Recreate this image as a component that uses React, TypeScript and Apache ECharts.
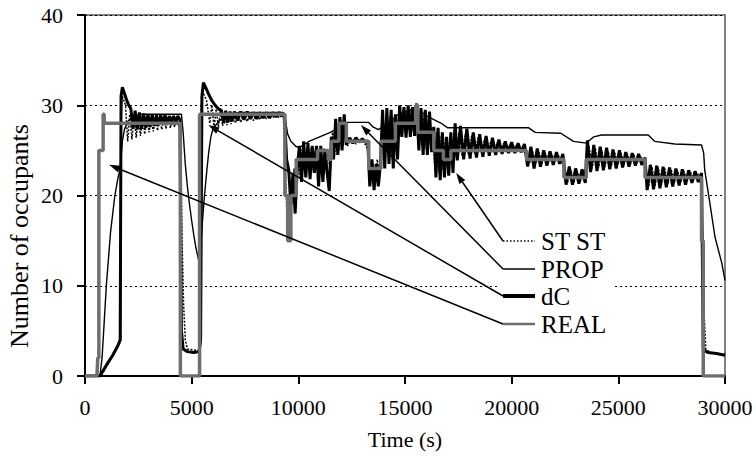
import React, { useEffect, useRef } from "react";
import * as echarts from "echarts";

const xTicks = [0, 5000, 10000, 15000, 20000, 25000, 30000];
const yTicks = [0, 10, 20, 30, 40];
const seriesNames = ["ST ST", "PROP", "dC", "REAL"];

const realData = [[0,0],[560,0],[600,2],[650,2],[650,25],[850,25],[850,29],[900,29],[900,28],[4470,28],[4470,0],[5370,0],[5370,29],[9370,29],[9370,20],[9500,20],[9500,15],[9650,15],[9650,20],[9900,20],[9900,24],[10900,24],[10900,25],[11400,25],[11400,24],[11550,24],[11550,26],[11900,26],[11900,28],[12250,28],[12250,26],[13300,26],[13300,23],[13870,23],[13870,26],[14550,26],[14550,28],[15500,28],[15500,30],[15600,30],[15600,27],[16350,27],[16350,25],[16800,25],[16800,24],[17150,24],[17150,25],[20700,25],[20700,24],[22450,24],[22450,22],[23500,22],[23500,24],[26250,24],[26250,22],[28900,22],[28900,15],[28980,15],[28980,0],[30000,0]];

const propData = [[0,0],[700,0],[800,2],[900,6],[1000,10],[1100,13],[1200,16],[1300,18],[1400,20],[1550,22],[1650,23],[1750,26],[1850,27.3],[2000,28.2],[2300,28.8],[2600,29],[4520,29],[4600,27],[4700,23.5],[4800,21],[4900,19],[5000,17.2],[5100,15.6],[5200,14.2],[5330,12.8],[5420,14],[5500,17],[5600,20],[5700,22.5],[5800,24.8],[5900,26.5],[6000,27.4],[6300,28.3],[6700,28.9],[7200,29.2],[9300,29.2],[9400,28.3],[9500,26.8],[9650,26],[9900,25.4],[10100,25.4],[10500,26],[11000,26.5],[11500,27],[12000,27.6],[12300,28.1],[13300,28.1],[13500,27.6],[13750,27.3],[14200,28],[14700,29],[15300,29.5],[15800,29.2],[16100,28.7],[16700,28],[17000,27.5],[20800,27.5],[21100,27],[22300,26.9],[22900,26],[23500,25.8],[23850,26.5],[24200,26.7],[26400,26.7],[26700,26],[27650,25.7],[28900,25.6],[29000,24.7],[29050,22.8],[29250,19.8],[29530,15.4],[29850,12.5],[30000,10.6]];

const dcMorning = [[0,0],[700,0],[1000,1.2],[1300,2.3],[1550,3.4],[1650,4],[1690,31],[1750,32],[1850,31.3],[1950,30.6],[2050,30],[2150,29.6],[2250,27.4],[2350,29.4],[2450,27.3],[2550,29.2],[2650,27.4],[2750,29.1],[2850,27.5],[2950,29],[3050,27.6],[3150,29],[3250,27.7],[3350,28.9],[3450,27.8],[3550,28.9],[3650,27.9],[3750,28.9],[3850,28],[3950,28.8],[4050,28.1],[4150,28.8],[4250,28.2],[4350,28.8],[4450,28.4],[4520,5],[4600,3],[4800,2.7],[5100,2.6],[5350,2.7],[5420,4]];
const dcMidday = [[5480,31],[5550,32.5],[5650,32],[5800,31.2],[5950,30.5],[6100,30],[6250,29.6],[6400,29.4],[6500,28],[6600,29.4],[6700,28.1],[6800,29.3],[6900,28.2],[7000,29.3],[7150,28.3],[7300,29.3],[7450,28.4],[7600,29.3],[7750,28.5],[7900,29.2],[8050,28.5],[8200,29.2],[8350,28.6],[8500,29.2],[8650,28.6],[8800,29.2],[8950,28.7],[9100,29.2],[9250,28.8],[9350,29],[9450,24],[9550,22.8],[9650,19],[9750,22.5],[9850,18],[9950,23],[10050,25.5]];
const dcAfternoon = [[10150,21.5],[10250,26],[10350,22],[10450,25.8],[10550,21.8],[10650,25.5],[10750,22.5],[10850,25.5],[10950,21],[11050,25.5],[11150,21.5],[11250,25],[11350,22.5],[11450,20.5],[11550,26.5],[11650,24],[11750,28.5],[11850,24.5],[11950,28.7],[12050,25],[12150,29],[12250,25.6],[12400,26.4],[12550,25.8],[12700,26.4],[12850,25.9],[13000,26.3],[13150,25.9],[13250,26.1],[13350,21],[13450,24],[13550,20.6],[13650,23.5],[13750,21],[13850,23.5],[13950,29.5],[14050,23],[14150,29.7],[14250,23.5],[14350,29.5],[14450,23],[14550,29],[14650,24],[14750,30],[14850,26.5],[14950,29.8],[15050,26.4],[15150,30],[15250,26.5],[15350,29.8],[15450,26.6],[15550,30.2],[15650,25],[15750,29.7],[15850,24.5],[15950,29.5],[16050,24.5],[16150,29.3],[16250,24.8],[16350,27.6],[16450,22],[16550,27.5],[16650,21.7],[16750,27],[16850,22],[16950,26.5],[17050,22.2],[17150,27],[17250,22.5]];
const dcEvening = [[17350,28],[17450,23.9],[17600,27.7],[17750,24],[17900,27.4],[18050,24.1],[18200,27],[18350,24.2],[18500,26.8],[18650,24.3],[18800,26.6],[18950,24.4],[19100,26.4],[19250,24.5],[19400,26.2],[19550,24.6],[19700,26],[19850,24.7],[20000,25.9],[20150,24.7],[20300,25.8],[20450,24.8],[20600,25.7],[20750,23.2],[20900,25.4],[21050,23],[21200,25.2],[21350,23.2],[21500,25],[21650,23.3],[21800,24.9],[21950,23.4],[22100,24.8],[22250,23.5],[22400,24.6],[22550,21.2],[22700,23.2],[22850,21.2],[23000,23],[23150,21.3],[23300,22.9],[23450,21.4],[23550,26.1],[23700,22.6],[23850,25.6],[24000,22.7],[24150,25.4],[24300,22.8],[24450,25.3],[24600,22.9],[24750,25.1],[24900,23],[25050,25],[25200,23.1],[25350,24.8],[25500,23.2],[25650,24.7],[25800,23.3],[25950,24.6],[26100,23.4],[26250,24.2],[26350,20.6],[26500,23.4],[26650,20.7],[26800,23.3],[26950,20.8],[27100,23.2],[27250,20.9],[27400,23.1],[27550,21],[27700,23],[27850,21.1],[28000,22.9],[28150,21.2],[28300,22.8],[28450,21.4],[28600,22.7],[28750,21.5],[28900,22.5],[28980,2.9],[29200,2.6],[29600,2.5],[30000,2.3]];

const ststMorning = [[0,0],[750,0],[1000,1],[1300,2.3],[1600,3.5],[1680,4],[1700,29],[1750,31],[1900,30],[2000,26],[2100,29],[2200,26.2],[2300,28.9],[2400,26.4],[2500,28.8],[2600,26.6],[2700,28.7],[2800,26.8],[2900,28.7],[3000,27],[3100,28.6],[3200,27.1],[3300,28.6],[3400,27.2],[3500,28.6],[3600,27.3],[3700,28.5],[3800,27.4],[3900,28.5],[4000,27.5],[4100,28.5],[4200,27.6],[4300,28.4],[4400,27.7],[4480,28],[4550,15],[4620,8],[4700,4],[4800,3],[5300,2.8],[5420,3.5]];
const ststMidday = [[5450,30],[5520,31.5],[5700,30.5],[5850,28],[5950,30],[6050,27.5],[6150,29.6],[6250,27.6],[6350,29.4],[6450,27.7],[6550,29.3],[6650,27.8],[6750,29.2],[6850,27.9],[6950,29.2],[7050,28],[7150,29.2],[7300,28.1],[7450,29.2],[7600,28.2],[7750,29.1],[7900,28.3],[8050,29.1],[8200,28.4],[8350,29.1],[8500,28.5],[8650,29.1],[8800,28.6],[8950,29],[9100,28.6],[9250,29],[9300,28.8]];
const ststAfternoon = [[9400,22],[9500,16],[9600,21],[9700,19],[9800,23],[9900,20],[10000,24],[10100,22],[10200,25.5],[10300,22.5],[10400,25],[10500,23],[10600,25.3],[10700,22.8],[10800,25],[10900,23.5],[11000,24.8],[11100,22.5],[11200,25.2],[11300,23],[11400,24.5],[11500,22.5],[11600,27],[11700,24.5],[11800,28],[11900,25],[12000,28.3],[12100,25.5],[12200,27.5],[12300,25.5],[12500,26.3],[12700,25.7],[12900,26.2],[13100,25.8],[13300,25],[13400,22],[13500,23.5],[13600,21.5],[13700,24],[13800,22.5],[13900,27],[14000,24],[14100,28.5],[14200,24.5],[14300,28.8],[14400,24],[14500,28.5],[14600,25],[14700,29],[14800,27],[14900,29.3],[15000,27],[15100,29.5],[15200,27.2],[15300,29.4],[15400,27],[15500,29.8],[15600,26],[15700,29],[15800,25.5],[15900,29],[16000,25.2],[16100,28.5],[16200,25.5],[16300,27.2],[16400,23],[16500,27],[16600,22.5],[16700,26.6],[16800,22.8],[16900,26.3],[17000,23],[17100,26.5],[17200,23.5],[17300,27.2]];
const ststEvening = [[17400,24.3],[17525,27],[17675,24.4],[17825,26.8],[17975,24.5],[18125,26.6],[18275,24.6],[18425,26.4],[18575,24.7],[18725,26.2],[18875,24.8],[19025,26],[19175,24.8],[19325,25.9],[19475,24.9],[19625,25.8],[19775,24.9],[19925,25.7],[20075,25],[20225,25.6],[20375,25],[20525,25.5],[20675,24.5],[20825,23.5],[20975,25],[21125,23.5],[21275,24.8],[21425,23.6],[21575,24.7],[21725,23.7],[21875,24.6],[22025,23.8],[22175,24.5],[22325,23.8],[22475,23],[22625,21.5],[22775,22.8],[22925,21.5],[23075,22.7],[23225,21.6],[23375,22.6],[23500,23],[23625,25.5],[23775,23],[23925,25.2],[24075,23.1],[24225,25],[24375,23.2],[24525,24.9],[24675,23.3],[24825,24.8],[24975,23.4],[25125,24.7],[25275,23.5],[25425,24.6],[25575,23.5],[25725,24.5],[25875,23.6],[26025,24.4],[26200,23.5],[26425,21],[26575,23.2],[26725,21.1],[26875,23.1],[27025,21.2],[27175,23],[27325,21.3],[27475,22.9],[27625,21.4],[27775,22.8],[27925,21.5],[28075,22.7],[28225,21.6],[28375,22.6],[28525,21.7],[28675,22.5],[28850,22],[28950,15],[29000,8],[29100,3],[29300,2.6],[30000,2.4]];

// arrow tips in data units, one per label
const arrowTips = [[17397, 22.5], [12931, 27.8], [5784, 27.8], [1128, 23.4]];

const FONT = "Liberation Serif";

export default function App() {
  const ref = useRef<HTMLDivElement>(null);
  useEffect(() => {
    document.body.style.margin = "0";
    const chart = echarts.init(ref.current as HTMLDivElement, null, { renderer: "svg" });
    const axisLine = { show: true, onZero: false, lineStyle: { color: "#000", width: 2 } };
    const axisTick = { show: true, length: 8, inside: false, lineStyle: { color: "#000", width: 2 } };
    const axisLabel = { fontFamily: FONT, fontSize: 22, color: "#000" };
    const option: any = {
      animation: false,
      grid: { left: 85, right: 31, top: 15, bottom: 81, show: true, borderColor: "#808080", borderWidth: 2 },
      xAxis: {
        type: "value", min: xTicks[0], max: xTicks[xTicks.length - 1], interval: 5000,
        axisLine, axisTick, axisLabel: { ...axisLabel, margin: 20, formatter: (v: number) => String(v) },
        splitLine: { show: false },
        name: "Time (s)", nameLocation: "middle", nameGap: 52,
        nameTextStyle: { fontFamily: FONT, fontSize: 22, color: "#000" },
      },
      yAxis: {
        type: "value", min: yTicks[0], max: yTicks[yTicks.length - 1], interval: 10,
        axisLine, axisTick, axisLabel: { ...axisLabel, margin: 22, formatter: (v: number) => String(v) },
        splitLine: { show: true, lineStyle: { color: "#000", width: 1, type: [2, 3] } },
      },
      series: [
        { name: "dC", type: "line", showSymbol: false, data: [...dcMorning, ...dcMidday, ...dcAfternoon, ...dcEvening], lineStyle: { color: "#000", width: 3 }, z: 2 },
        { name: "ST ST", type: "line", showSymbol: false, data: [...ststMorning, ...ststMidday, ...ststAfternoon, ...ststEvening], lineStyle: { color: "#000", width: 1.5, type: [2, 1.5] }, z: 3 },
        { name: "PROP", type: "line", showSymbol: false, data: propData, lineStyle: { color: "#000", width: 1.4 }, z: 4 },
        { name: "REAL", type: "line", showSymbol: false, data: realData, lineStyle: { color: "#6e6e6e", width: 3.5 }, z: 5 },
      ],
    };
    chart.setOption(option);

    const labelYs = [241, 269, 296, 324];
    const startX = 503;
    const graphics: any[] = [
      { type: "rect", shape: { x: 497, y: 226, width: 116, height: 112 }, style: { fill: "#fff" }, z: 50 },
      {
        type: "text", x: 19, y: 236, rotation: Math.PI / 2, z: 60,
        style: { text: "Number of occupants", fontFamily: FONT, fontSize: 26, fill: "#000", align: "center", verticalAlign: "middle" },
      },
    ];
    const sampleStyles = [
      { stroke: "#000", lineWidth: 1.5, lineDash: [1.5, 2] },
      { stroke: "#000", lineWidth: 1.5 },
      { stroke: "#000", lineWidth: 4 },
      { stroke: "#6e6e6e", lineWidth: 2.5 },
    ];
    arrowTips.forEach((tip, i) => {
      const p = chart.convertToPixel({ gridIndex: 0 }, tip) as number[];
      const sy = labelYs[i];
      const dx = p[0] - startX, dy = p[1] - sy;
      const len = Math.sqrt(dx * dx + dy * dy);
      const ux = dx / len, uy = dy / len;
      const nx = -uy, ny = ux;
      const L = 11, W = 7;
      const bx = p[0] - ux * L, by = p[1] - uy * L;
      graphics.push({ type: "line", z: 70, shape: { x1: startX, y1: sy, x2: bx, y2: by }, style: { stroke: "#000", lineWidth: 1.5 } });
      graphics.push({ type: "polygon", z: 70, shape: { points: [[p[0], p[1]], [bx + nx * W / 2, by + ny * W / 2], [bx - nx * W / 2, by - ny * W / 2]] }, style: { fill: "#000" } });
      graphics.push({ type: "line", z: 70, shape: { x1: startX, y1: sy, x2: 535, y2: sy }, style: sampleStyles[i] });
      graphics.push({ type: "text", z: 70, x: 541, y: sy, style: { text: seriesNames[i], fontFamily: FONT, fontSize: 25, fill: "#000", align: "left", verticalAlign: "middle" } });
    });
    chart.setOption({ graphic: graphics });
    return () => chart.dispose();
  }, []);
  return <div ref={ref} style={{ width: 756, height: 457 }} />;
}
